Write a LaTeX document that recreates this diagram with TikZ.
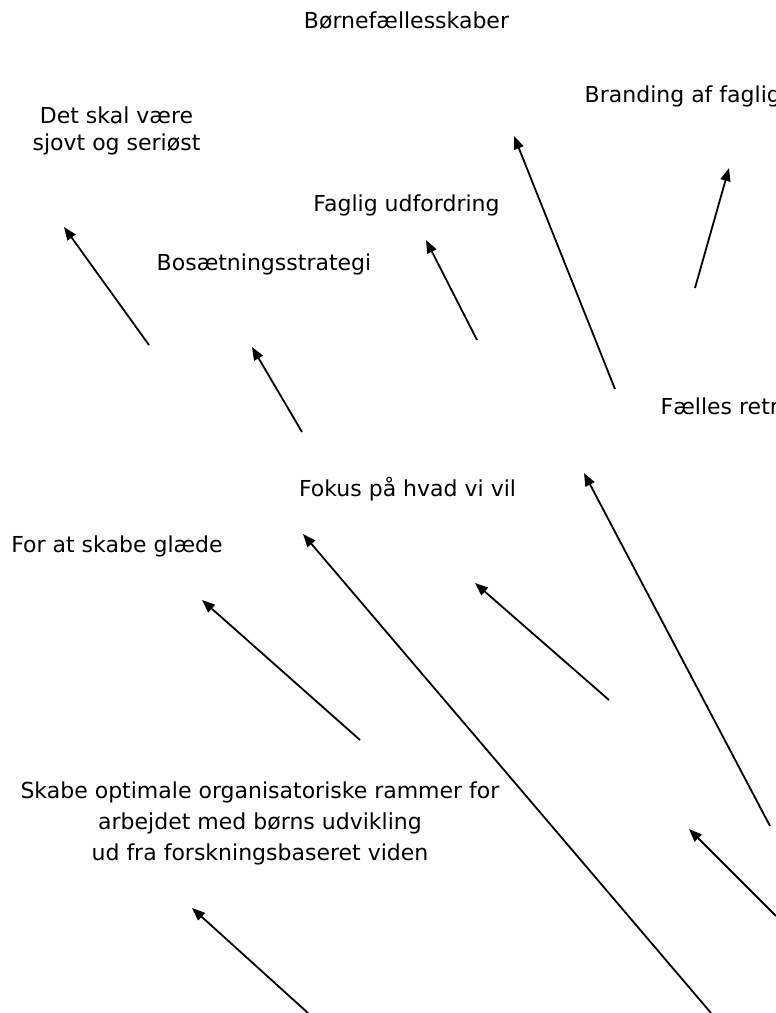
\documentclass[tikz,border=0pt]{standalone}
\usepackage{fontspec}
\setmainfont{DejaVu Sans}
\usepackage{tikz}
\usetikzlibrary{arrows.meta}
\tikzset{every picture/.style={line width=0.75pt}}

\begin{document}
\begin{tikzpicture}[x=1pt,y=-1pt,
  font=\fontsize{22}{31}\selectfont,
  pil/.style={-{Triangle[length=13pt,width=10pt]},line width=1.8pt}]
\useasboundingbox (0,0) rectangle (776,1013);
\clip (0,0) rectangle (776,1013);
\node[anchor=base] (titel) at (406.5,28) {Børnefællesskaber};
\node[anchor=base,align=center,font=\fontsize{22}{27}\selectfont] (sjov) at (116.5,150) {Det skal være\\sjovt og seriøst};
\node[anchor=base west] (brand) at (581,102) {Branding af faglig};
\node[anchor=base] (faglig) at (406.5,211) {Faglig udfordring};
\node[anchor=base] (bosaet) at (264,270) {Bosætningsstrategi};
\node[anchor=base west] (retn) at (657,414) {Fælles retr};
\node[anchor=base] (fokus) at (407.5,496) {Fokus på hvad vi vil};
\node[anchor=base] (glaede) at (117,552) {For at skabe glæde};
\node[anchor=base,align=center] (rammer) at (260,860) {Skabe optimale organisatoriske rammer for\\arbejdet med børns udvikling\\ud fra forskningsbaseret viden};
%
\coordinate (a1) at (149,345); \coordinate (b1) at (64,227);
\coordinate (a2) at (302,432); \coordinate (b2) at (252,347);
\coordinate (a3) at (477,340); \coordinate (b3) at (426,240);
\coordinate (a4) at (615,389); \coordinate (b4) at (514,136);
\coordinate (a5) at (695,288); \coordinate (b5) at (729,168);
\coordinate (a6) at (770,826); \coordinate (b6) at (584,473);
\coordinate (a7) at (360,740); \coordinate (b7) at (202,600);
\coordinate (a8) at (609,700); \coordinate (b8) at (475,583);
\coordinate (a9) at (711,1013); \coordinate (b9) at (303,534);
\coordinate (a10) at (776,916); \coordinate (b10) at (689,829);
\coordinate (a11) at (308,1013); \coordinate (b11) at (192,908);
%
\foreach \i in {1,...,11}
  \draw [pil] (a\i) -- (b\i);
\end{tikzpicture}
\end{document}
